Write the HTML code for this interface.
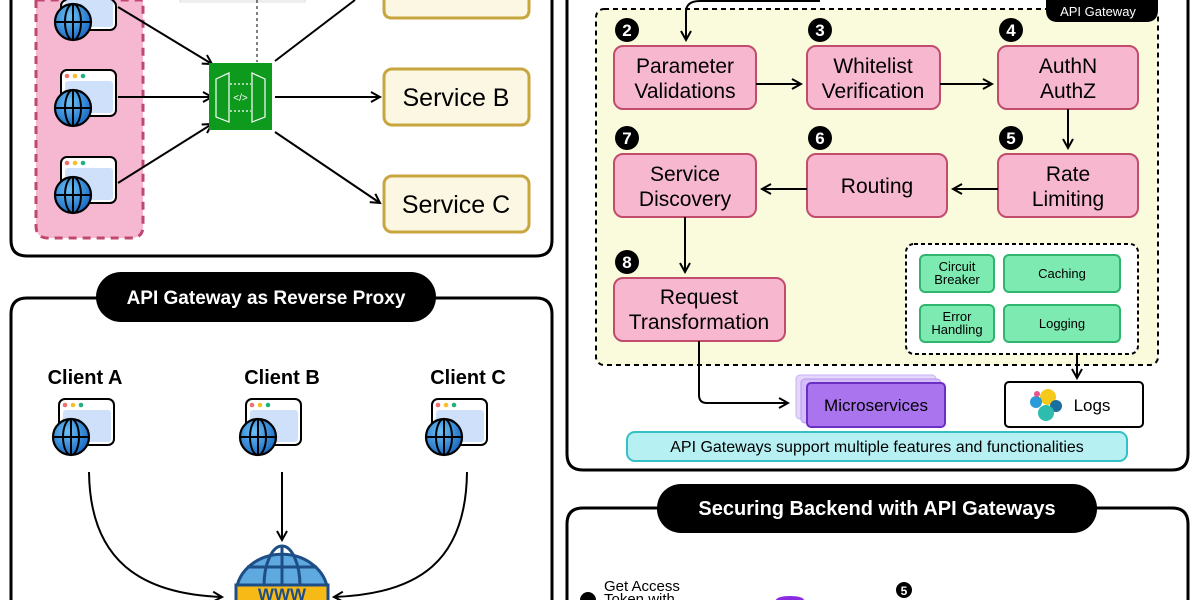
<!DOCTYPE html>
<html><head><meta charset="utf-8"><style>
html,body{margin:0;padding:0;background:#fff;width:1200px;height:600px;overflow:hidden;}
svg{display:block;}
text{font-family:"Liberation Sans",sans-serif;}
</style></head><body>
<svg width="1200" height="600" viewBox="0 0 1200 600" xmlns="http://www.w3.org/2000/svg">
<defs>
<marker id="ah" markerWidth="12" markerHeight="12" refX="10" refY="6" orient="auto" markerUnits="userSpaceOnUse">
<path d="M1,1 L10,6 L1,11" fill="none" stroke="#000" stroke-width="2"/>
</marker>
<radialGradient id="gb" cx="0.4" cy="0.35" r="0.7"><stop offset="0" stop-color="#6cc0f5"/><stop offset="1" stop-color="#1566c0"/></radialGradient>
<g id="client">
<rect x="0" y="0" width="55" height="46" rx="6" fill="#fff" stroke="#000" stroke-width="2"/>
<rect x="4" y="11" width="48" height="32" rx="3" fill="#cfe0fb"/>
<circle cx="6" cy="6" r="2.3" fill="#f07070"/><circle cx="14" cy="6" r="2.3" fill="#f5bf2a"/><circle cx="22" cy="6" r="2.3" fill="#22b07d"/>
<circle cx="12" cy="38" r="18" fill="url(#gb)" stroke="#000" stroke-width="2.2"/>
<ellipse cx="12" cy="38" rx="8" ry="18" fill="none" stroke="#000" stroke-width="2"/>
<line x1="12" y1="20" x2="12" y2="56" stroke="#000" stroke-width="2"/>
<line x1="-6" y1="38" x2="30" y2="38" stroke="#000" stroke-width="2"/>
</g>
</defs>
<!-- TOP LEFT PANEL -->
<path d="M11,0 L11,240 Q11,256 27,256 L536,256 Q552,256 552,240 L552,0" fill="#fff" stroke="#000" stroke-width="3"/>
<path d="M36,0 L36,226 Q36,238 48,238 L131,238 Q143,238 143,226 L143,0 Z" fill="#f6b7d0" stroke="#c0486f" stroke-width="3" stroke-dasharray="8,6"/>
<rect x="180" y="0" width="125" height="2" fill="#fff" stroke="#ddd"/>
<line x1="257" y1="0" x2="257" y2="62" stroke="#000" stroke-width="1" stroke-dasharray="3,3"/>
<g>
<rect x="61" y="0" width="55" height="30" rx="6" fill="#fff" stroke="#000" stroke-width="2"/>
<rect x="65" y="0" width="48" height="27" rx="3" fill="#cfe0fb"/>
<circle cx="73" cy="22" r="18" fill="url(#gb)" stroke="#000" stroke-width="2.2"/>
<ellipse cx="73" cy="22" rx="8" ry="18" fill="none" stroke="#000" stroke-width="2"/>
<line x1="73" y1="4" x2="73" y2="40" stroke="#000" stroke-width="2"/>
<line x1="55" y1="22" x2="91" y2="22" stroke="#000" stroke-width="2"/>
</g>
<use href="#client" x="61" y="70"/>
<use href="#client" x="61" y="157"/>
<line x1="118" y1="7" x2="212" y2="64" stroke="#000" stroke-width="2" marker-end="url(#ah)"/>
<line x1="118" y1="97" x2="212" y2="97" stroke="#000" stroke-width="2" marker-end="url(#ah)"/>
<line x1="118" y1="183" x2="212" y2="124" stroke="#000" stroke-width="2" marker-end="url(#ah)"/>
<rect x="209" y="63" width="63" height="67" fill="#0e9a1c"/>
<g fill="none" stroke="#fff" stroke-width="1.2">
<path d="M216,79 L229,73 L229,122 L216,117 Z"/><path d="M265,79 L252,73 L252,122 L265,117 Z"/>
<line x1="230" y1="84" x2="251" y2="84" stroke-dasharray="2,2"/><line x1="230" y1="111" x2="251" y2="111" stroke-dasharray="2,2"/>
<text x="240.5" y="101" font-size="10" fill="#fff" stroke="none" text-anchor="middle">&lt;/&gt;</text>
</g>
<line x1="275" y1="61" x2="355" y2="0" stroke="#000" stroke-width="2"/>
<line x1="275" y1="97" x2="380" y2="97" stroke="#000" stroke-width="2" marker-end="url(#ah)"/>
<line x1="275" y1="132" x2="380" y2="203" stroke="#000" stroke-width="2" marker-end="url(#ah)"/>
<path d="M384,0 L384,10 Q384,18 392,18 L521,18 Q529,18 529,10 L529,0" fill="#fcf7e3" stroke="#c8a63e" stroke-width="3"/>
<rect x="384" y="69" width="145" height="56" rx="8" fill="#fcf7e3" stroke="#c8a63e" stroke-width="3"/>
<text x="456" y="106" font-size="25" text-anchor="middle">Service B</text>
<rect x="384" y="176" width="145" height="56" rx="8" fill="#fcf7e3" stroke="#c8a63e" stroke-width="3"/>
<text x="456" y="213" font-size="25" text-anchor="middle">Service C</text>

<!-- BOTTOM LEFT PANEL -->
<path d="M11,600 L11,314 Q11,298 27,298 L536,298 Q552,298 552,314 L552,600" fill="#fff" stroke="#000" stroke-width="3"/>
<rect x="96" y="272" width="340" height="50" rx="25" fill="#000"/>
<text x="266" y="304" font-size="19" font-weight="bold" fill="#fff" text-anchor="middle">API Gateway as Reverse Proxy</text>
<text x="85" y="384" font-size="20" font-weight="bold" text-anchor="middle">Client A</text>
<text x="282" y="384" font-size="20" font-weight="bold" text-anchor="middle">Client B</text>
<text x="468" y="384" font-size="20" font-weight="bold" text-anchor="middle">Client C</text>
<use href="#client" x="59" y="399"/>
<use href="#client" x="246" y="399"/>
<use href="#client" x="432" y="399"/>
<path d="M89,472 C90,560 140,594 222,597" fill="none" stroke="#000" stroke-width="2" marker-end="url(#ah)"/>
<line x1="282" y1="472" x2="282" y2="540" stroke="#000" stroke-width="2" marker-end="url(#ah)"/>
<path d="M467,472 C466,560 420,594 334,597" fill="none" stroke="#000" stroke-width="2" marker-end="url(#ah)"/>
<path d="M237,586 A46,40 0 0 1 327,586 Z" fill="#5ea9e0" stroke="#1e4e86" stroke-width="3"/>
<ellipse cx="282" cy="586" rx="18" ry="40" fill="none" stroke="#1e4e86" stroke-width="3"/>
<line x1="282" y1="546" x2="282" y2="586" stroke="#1e4e86" stroke-width="3"/>
<line x1="247" y1="567" x2="317" y2="567" stroke="#1e4e86" stroke-width="3"/>
<path d="M236,600 L236,585 L328,585 L328,600" fill="#f7b916" stroke="#1e4e86" stroke-width="3"/>
<text x="282" y="600" font-size="17" font-weight="bold" fill="#1e4e86" text-anchor="middle">WWW</text>

<!-- TOP RIGHT PANEL -->
<path d="M567,0 L567,454 Q567,470 583,470 L1172,470 Q1188,470 1188,454 L1188,0" fill="#fff" stroke="#000" stroke-width="3"/>
<rect x="596" y="9" width="562" height="356" rx="8" fill="#fafbdc" stroke="#000" stroke-width="2" stroke-dasharray="5,4"/>
<path d="M1046,0 L1046,10 Q1046,22 1058,22 L1146,22 Q1158,22 1158,10 L1158,0 Z" fill="#000"/>
<text x="1098" y="16" font-size="13" fill="#fff" text-anchor="middle">API Gateway</text>
<path d="M820,1 L700,1 Q686,1 686,12 L686,40" fill="none" stroke="#000" stroke-width="2" marker-end="url(#ah)"/>
<g stroke="#c24c6c" stroke-width="2" fill="#f7b8cf">
<rect x="614" y="46" width="142" height="63" rx="9"/>
<rect x="807" y="46" width="133" height="63" rx="9"/>
<rect x="998" y="46" width="140" height="63" rx="9"/>
<rect x="614" y="154" width="142" height="63" rx="9"/>
<rect x="807" y="154" width="140" height="63" rx="9"/>
<rect x="998" y="154" width="140" height="63" rx="9"/>
<rect x="614" y="278" width="171" height="63" rx="9"/>
</g>
<g font-size="21" text-anchor="middle">
<text x="685" y="73">Parameter</text><text x="685" y="98">Validations</text>
<text x="873" y="73">Whitelist</text><text x="873" y="98">Verification</text>
<text x="1068" y="73">AuthN</text><text x="1068" y="98">AuthZ</text>
<text x="685" y="181">Service</text><text x="685" y="206">Discovery</text>
<text x="877" y="193">Routing</text>
<text x="1068" y="181">Rate</text><text x="1068" y="206">Limiting</text>
<text x="699" y="304">Request</text><text x="699" y="329">Transformation</text>
</g>
<g fill="#000"><circle cx="627" cy="30" r="12"/><circle cx="820" cy="30" r="12"/><circle cx="1011" cy="30" r="12"/>
<circle cx="627" cy="138" r="12"/><circle cx="820" cy="138" r="12"/><circle cx="1011" cy="138" r="12"/><circle cx="627" cy="262" r="12"/></g>
<g fill="#fff" font-size="17" font-weight="bold" text-anchor="middle">
<text x="627" y="36">2</text><text x="820" y="36">3</text><text x="1011" y="36">4</text>
<text x="627" y="144">7</text><text x="820" y="144">6</text><text x="1011" y="144">5</text><text x="627" y="268">8</text></g>
<g stroke="#000" stroke-width="2" fill="none">
<line x1="756" y1="84" x2="801" y2="84" marker-end="url(#ah)"/>
<line x1="940" y1="84" x2="992" y2="84" marker-end="url(#ah)"/>
<line x1="1068" y1="109" x2="1068" y2="148" marker-end="url(#ah)"/>
<line x1="998" y1="189" x2="953" y2="189" marker-end="url(#ah)"/>
<line x1="807" y1="189" x2="762" y2="189" marker-end="url(#ah)"/>
<line x1="685" y1="217" x2="685" y2="272" marker-end="url(#ah)"/>
<path d="M699,341 L699,395 Q699,403 707,403 L788,403" marker-end="url(#ah)"/>
<line x1="1077" y1="354" x2="1077" y2="378" marker-end="url(#ah)"/>
</g>
<rect x="906" y="244" width="232" height="110" rx="8" fill="#fff" stroke="#000" stroke-width="2" stroke-dasharray="4,3"/>
<g fill="#7deab1" stroke="#2fb56e" stroke-width="2">
<rect x="920" y="255" width="74" height="37" rx="5"/><rect x="1004" y="255" width="116" height="37" rx="5"/>
<rect x="920" y="305" width="74" height="37" rx="5"/><rect x="1004" y="305" width="116" height="37" rx="5"/></g>
<g font-size="13" text-anchor="middle">
<text x="957" y="271">Circuit</text><text x="957" y="284">Breaker</text>
<text x="1062" y="278">Caching</text>
<text x="957" y="321">Error</text><text x="957" y="334">Handling</text>
<text x="1062" y="328">Logging</text></g>
<rect x="796" y="375" width="140" height="44" rx="4" fill="#e5d6fb" stroke="#c9b0f5"/>
<rect x="801" y="379" width="140" height="44" rx="4" fill="#d3befa" stroke="#b998f2"/>
<rect x="807" y="383" width="138" height="44" rx="4" fill="#a974ee" stroke="#6b2fc4" stroke-width="2"/>
<text x="876" y="411" font-size="17" text-anchor="middle">Microservices</text>
<rect x="1005" y="382" width="138" height="45" rx="4" fill="#fff" stroke="#000" stroke-width="2"/>
<circle cx="1048" cy="397" r="8" fill="#f6c91b"/><circle cx="1036" cy="402" r="6" fill="#2a9bd8"/>
<circle cx="1056" cy="406" r="6" fill="#1a6fa0"/><circle cx="1046" cy="413" r="8" fill="#2ebcae"/>
<circle cx="1037" cy="394" r="3" fill="#e9528f"/>
<text x="1092" y="411" font-size="17" text-anchor="middle">Logs</text>
<rect x="627" y="432" width="500" height="29" rx="8" fill="#b6f0f2" stroke="#35c0c4" stroke-width="2"/>
<text x="877" y="452" font-size="16" text-anchor="middle">API Gateways support multiple features and functionalities</text>

<!-- BOTTOM RIGHT PANEL -->
<path d="M567,600 L567,524 Q567,508 583,508 L1172,508 Q1188,508 1188,524 L1188,600" fill="#fff" stroke="#000" stroke-width="3"/>
<rect x="657" y="484" width="440" height="49" rx="24" fill="#000"/>
<text x="877" y="515" font-size="20" font-weight="bold" fill="#fff" text-anchor="middle">Securing Backend with API Gateways</text>
<text x="604" y="591" font-size="15">Get Access</text>
<text x="604" y="604" font-size="15">Token with</text>
<path d="M580,600 A8,8 0 0 1 596,600 Z" fill="#000"/>
<circle cx="904" cy="590" r="8" fill="#000"/>
<text x="904" y="595" font-size="12" font-weight="bold" fill="#fff" text-anchor="middle">5</text>
<path d="M776,600 A14,4 0 0 1 804,600 Z" fill="#8a2be2"/>
</svg>
</body></html>
